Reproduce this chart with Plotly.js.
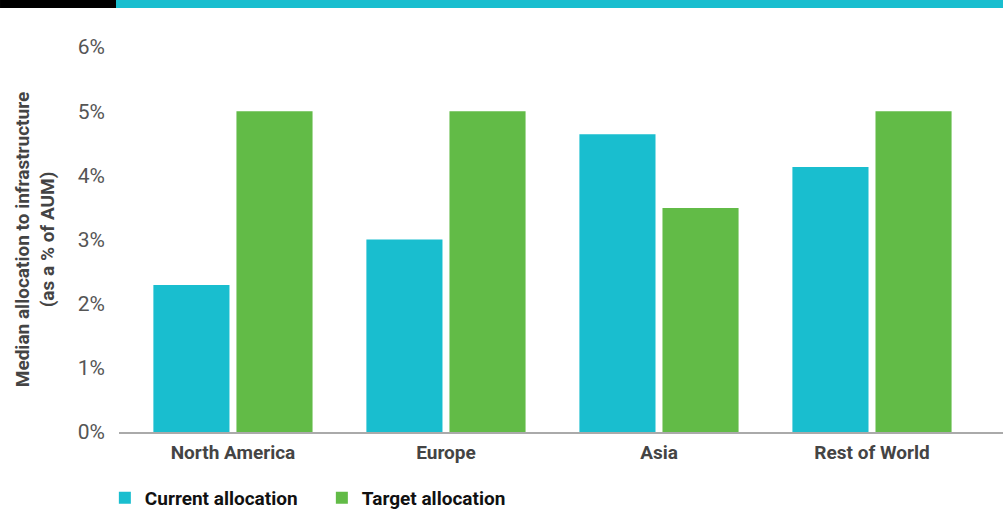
<!DOCTYPE html>
<html>
<head>
<meta charset="utf-8">
<script src="https://cdn.plot.ly/plotly-3.0.1.min.js"></script>
<style>
  html, body { margin: 0; padding: 0; background: #fff; }
  #chart { width: 1003px; height: 512px; }
</style>
</head>
<body>
<div id="chart"></div>
<script>
const categories = ["North America", "Europe", "Asia", "Rest of World"];
const currentAllocation = [2.29, 3.0, 4.64, 4.13];
const targetAllocation = [5.0, 5.0, 3.49, 5.0];
const seriesNames = ["Current allocation", "Target allocation"];
const yTickValues = [0, 1, 2, 3, 4, 5, 6];
const yTickLabels = ["0%", "1%", "2%", "3%", "4%", "5%", "6%"];

const CYAN = "#19BECF";
const GREEN = "#62BB47";
const FONT = "Roboto, 'Liberation Sans', sans-serif";

const traces = [
  { type: "bar", name: seriesNames[0], x: categories, y: currentAllocation,
    marker: { color: CYAN }, hoverinfo: "x+y" },
  { type: "bar", name: seriesNames[1], x: categories, y: targetAllocation,
    marker: { color: GREEN }, hoverinfo: "x+y" }
];

const layout = {
  width: 1003, height: 512,
  margin: { l: 119, r: 0, t: 47, b: 80, pad: 0, autoexpand: false },
  paper_bgcolor: "#fff", plot_bgcolor: "#fff",
  barmode: "group", bargap: 0.22, bargroupgap: 0.084,
  showlegend: true,
  legend: {
    orientation: "h", x: -0.016, xanchor: "left", y: -0.122, yanchor: "top",
    font: { family: FONT, size: 19, color: "#111", weight: "bold" },
    entrywidth: 172, entrywidthmode: "pixels",
    traceorder: "normal"
  },
  xaxis: {
    type: "category", range: [-0.535, 3.615],
    showgrid: false, zeroline: false,
    showline: true, linecolor: "#aaaaaa", linewidth: 2,
    ticks: "", ticklabelstandoff: 2,
    tickfont: { family: FONT, size: 19, color: "#444", weight: "bold" },
    automargin: false, fixedrange: true
  },
  yaxis: {
    range: [0, 6], tickvals: yTickValues, ticktext: yTickLabels,
    showgrid: false, zeroline: false, showline: false,
    ticks: "", ticklabelstandoff: 13,
    tickfont: { family: FONT, size: 21, color: "#555" },
    title: { text: "Median allocation to infrastructure<br>(as a % of AUM)",
             font: { family: FONT, size: 19, color: "#444", weight: "bold" }, standoff: 18 },
    automargin: false, fixedrange: true
  },
  shapes: [
    { type: "rect", xref: "paper", yref: "paper", x0: -0.1346, x1: -0.0034, y0: 1.1013, y1: 1.13,
      fillcolor: "#000", line: { width: 0 } },
    { type: "rect", xref: "paper", yref: "paper", x0: -0.0034, x1: 1.0, y0: 1.1013, y1: 1.13,
      fillcolor: CYAN, line: { width: 0 } }
  ]
};

Plotly.newPlot("chart", traces, layout, { displayModeBar: false, staticPlot: true });
</script>
</body>
</html>
